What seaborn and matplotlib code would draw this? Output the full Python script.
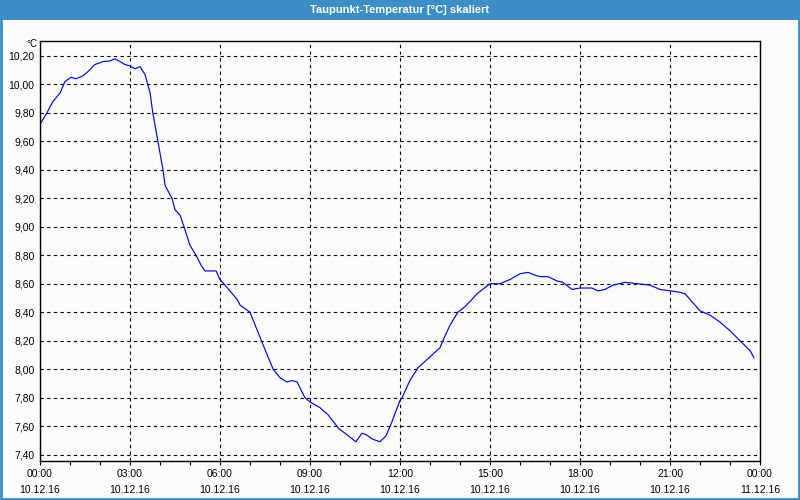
import pandas as pd
import numpy as np
import matplotlib
matplotlib.use("Agg")
import matplotlib.pyplot as plt
import matplotlib.ticker as mticker
from matplotlib.patches import Rectangle
import seaborn as sns

# Daten (Stunden ab 10.12.16 00:00, Taupunkt in °C)
stunden = [0.00, 0.23, 0.43, 0.67, 0.83, 1.03, 1.20, 1.43, 1.60, 1.83,
           2.10, 2.33, 2.50, 2.67, 2.83, 3.00, 3.17, 3.33, 3.50, 3.67,
           3.76, 3.93, 4.10, 4.17, 4.40, 4.50, 4.67, 4.80, 5.00, 5.20,
           5.37, 5.50, 5.87, 6.00, 6.17, 6.57, 6.67, 7.00, 7.40, 7.77,
           8.00, 8.23, 8.40, 8.57, 8.83, 9.00, 9.33, 9.60, 9.97, 10.23,
           10.47, 10.53, 10.73, 10.87, 11.07, 11.33, 11.53, 11.73, 12.00, 12.07,
           12.33, 12.60, 13.33, 13.47, 13.67, 13.93, 14.17, 14.40, 14.57, 15.00,
           15.33, 15.67, 16.00, 16.27, 16.50, 16.67, 16.93, 17.23, 17.43, 17.73,
           18.00, 18.40, 18.60, 18.83, 19.10, 19.50, 19.93, 20.33, 20.67, 21.00,
           21.33, 21.50, 22.00, 22.33, 22.67, 23.00, 23.33, 23.67, 23.80]
taupunkt = [9.72, 9.80, 9.88, 9.94, 10.02, 10.05, 10.04, 10.06, 10.09, 10.14,
            10.16, 10.165, 10.18, 10.16, 10.14, 10.13, 10.11, 10.125, 10.07, 9.94,
            9.80, 9.60, 9.40, 9.29, 9.20, 9.12, 9.08, 9.00, 8.87, 8.80,
            8.73, 8.69, 8.69, 8.63, 8.59, 8.49, 8.45, 8.40, 8.19, 8.00,
            7.94, 7.91, 7.92, 7.91, 7.80, 7.77, 7.73, 7.68, 7.58, 7.54,
            7.50, 7.49, 7.55, 7.54, 7.51, 7.49, 7.53, 7.63, 7.78, 7.80,
            7.92, 8.01, 8.15, 8.22, 8.31, 8.40, 8.44, 8.49, 8.53, 8.60,
            8.60, 8.63, 8.67, 8.68, 8.66, 8.65, 8.65, 8.62, 8.61, 8.56,
            8.57, 8.57, 8.55, 8.56, 8.59, 8.61, 8.60, 8.59, 8.56, 8.55,
            8.54, 8.53, 8.41, 8.38, 8.33, 8.27, 8.20, 8.13, 8.08]

tick_stunden = [0, 3, 6, 9, 12, 15, 18, 21, 24]
tick_labels = ["00:00\n10.12.16", "03:00\n10.12.16", "06:00\n10.12.16",
               "09:00\n10.12.16", "12:00\n10.12.16", "15:00\n10.12.16",
               "18:00\n10.12.16", "21:00\n10.12.16", "00:00\n11.12.16"]
y_ticks = [7.40, 7.60, 7.80, 8.00, 8.20, 8.40, 8.60, 8.80, 9.00,
           9.20, 9.40, 9.60, 9.80, 10.00, 10.20]

df = pd.DataFrame({"Stunde": stunden, "Taupunkt": taupunkt})

# Stil
sns.set_style("white")
plt.rcParams["font.family"] = ["Liberation Sans", "DejaVu Sans"]
plt.rcParams["text.color"] = "black"
plt.rcParams["xtick.color"] = "black"
plt.rcParams["ytick.color"] = "black"
blau = "#3b8fc6"

fig = plt.figure(figsize=(8, 5), dpi=100, facecolor="#fbfdfb")
ax = fig.add_axes([0.05, 0.078, 0.90, 0.84])
ax.set_facecolor("#fbfdfb")

sns.lineplot(data=df, x="Stunde", y="Taupunkt", ax=ax, color="#0000ff", linewidth=0.85)

ax.set_xlim(0, 24)
ax.set_ylim(7.355, 10.305)
ax.set_xticks(tick_stunden)
ax.set_xticklabels(tick_labels, linespacing=1.7)
ax.xaxis.set_minor_locator(mticker.MultipleLocator(1))
ax.set_yticks(y_ticks)
ax.yaxis.set_major_formatter(mticker.FuncFormatter(lambda v, p: f"{v:.2f}".replace(".", ",")))
ax.set_xlabel("")
ax.set_ylabel("")

ax.grid(True, which="major", color="black", linestyle=(0, (3, 3)), linewidth=0.8)
for s in ax.spines.values():
    s.set_color("black")
    s.set_linewidth(1.0)
ax.tick_params(axis="x", which="both", direction="out", length=3, width=0.8,
               color="black", labelsize=7.5, pad=3, bottom=True)
ax.tick_params(axis="y", length=0, labelsize=7.5, pad=4)
ax.text(-0.004, 0.993, "°C", transform=ax.transAxes, ha="right", va="center", fontsize=7)

# Titelleiste und Rahmen
fig.patches.append(Rectangle((0, 1 - 20 / 500), 1, 20 / 500, transform=fig.transFigure,
                             facecolor=blau, edgecolor="none", zorder=0))
fig.patches.append(Rectangle((0.001, 0.002), 0.998, 0.99, transform=fig.transFigure,
                             facecolor="none", edgecolor=blau, linewidth=2.0, zorder=1))
fig.text(0.5, 1 - 10 / 500, "Taupunkt-Temperatur [°C] skaliert", ha="center", va="center",
         color="white", fontsize=8, fontweight="bold")

fig.savefig("out.png", dpi=100, facecolor=fig.get_facecolor())
